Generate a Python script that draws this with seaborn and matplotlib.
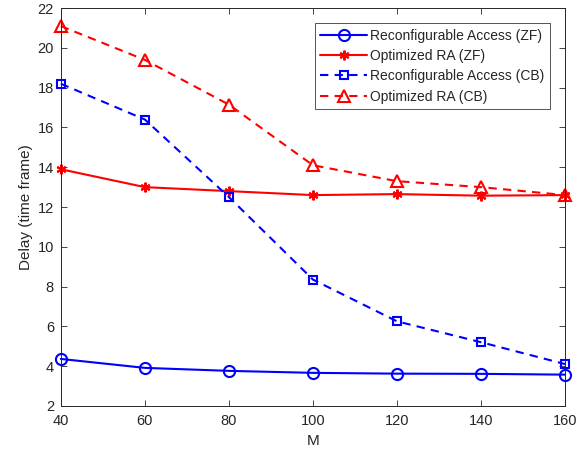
import matplotlib
matplotlib.use("Agg")
import matplotlib.pyplot as plt
import seaborn as sns
import pandas as pd

M = [40, 60, 80, 100, 120, 140, 160]
ra_zf = [4.36, 3.91, 3.76, 3.66, 3.62, 3.61, 3.57]
ora_zf = [13.9, 13.0, 12.8, 12.6, 12.65, 12.57, 12.6]
ra_cb = [18.2, 16.4, 12.5, 8.35, 6.25, 5.2, 4.1]
ora_cb = [21.1, 19.4, 17.15, 14.1, 13.3, 13.0, 12.6]
labels = ["Reconfigurable Access (ZF)", "Optimized RA (ZF)",
          "Reconfigurable Access (CB)", "Optimized RA (CB)"]

sns.set_style("white")
plt.rcParams['font.family'] = ['Liberation Sans', 'DejaVu Sans']

fig = plt.figure(figsize=(5.85, 4.55), dpi=100)
ax = fig.add_axes([0.104, 0.108, 0.862, 0.874])

series = [
    (ra_zf, labels[0], 'blue', 'o', '-', dict(mfc='none', ms=8)),
    (ora_zf, labels[1], 'red', (6, 2, 0), '-', dict(ms=7)),
    (ra_cb, labels[2], 'blue', 's', '--', dict(mfc='none', ms=6)),
    (ora_cb, labels[3], 'red', '^', '--', dict(mfc='none', ms=9)),
]
for vals, lab, col, mk, ls, kw in series:
    df = pd.DataFrame({"M": M, "Delay": vals})
    sns.lineplot(data=df, x="M", y="Delay", ax=ax, color=col, marker=mk,
                 linestyle=ls, linewidth=1.5, label=lab,
                 markeredgecolor=col, markeredgewidth=1.5, clip_on=False, **kw)

for line in ax.get_lines():
    if line.get_linestyle() == '--':
        line.set_dashes((4, 3))

ax.set_xlim(40, 160)
ax.set_ylim(2, 22)
ax.set_xticks(range(40, 161, 20))
ax.set_yticks(range(2, 23, 2))
ax.set_xlabel("M", fontsize=11, color='#262626', labelpad=4)
ax.set_ylabel("Delay (time frame)", fontsize=11, color='#262626', labelpad=3)
ax.tick_params(direction='in', length=4, width=0.6, labelsize=10.5,
               colors='#262626', top=True, right=True, bottom=True, left=True)
ax.tick_params(axis='x', pad=6)
ax.tick_params(axis='y', pad=5)
for s in ax.spines.values():
    s.set_color('#262626')
    s.set_linewidth(0.7)

leg = ax.legend(loc='upper right', bbox_to_anchor=(0.970, 0.962), fontsize=10,
                frameon=True, fancybox=False, edgecolor='#262626',
                handlelength=3.4, borderpad=0.4, labelspacing=0.45,
                handletextpad=0.2, borderaxespad=0)
leg.get_frame().set_linewidth(0.7)

fig.savefig("out.png", dpi=100)
